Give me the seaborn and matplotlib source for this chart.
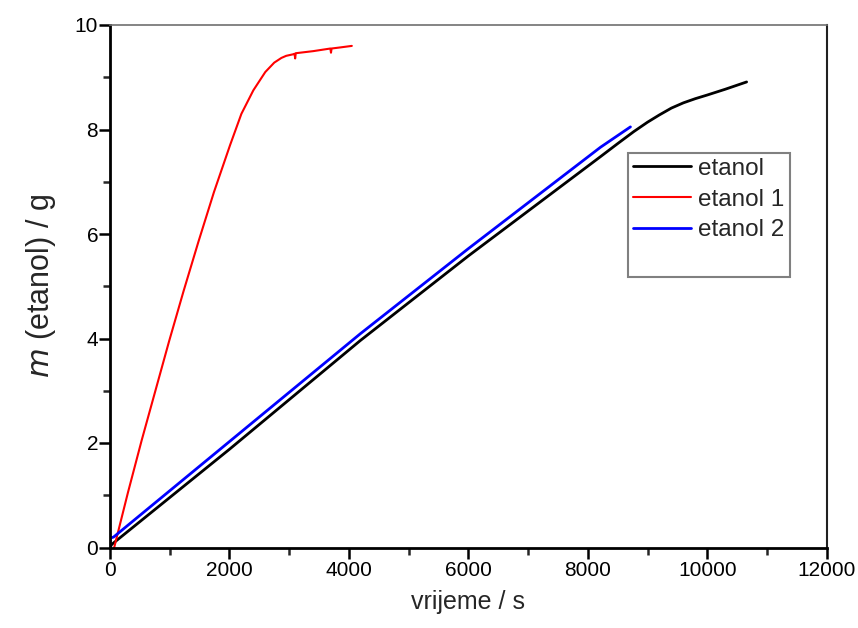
import numpy as np
import pandas as pd
import seaborn as sns
import matplotlib.pyplot as plt
from matplotlib.lines import Line2D
from matplotlib.ticker import MultipleLocator

# values
etanol_t = [0, 30, 2000, 4190, 6000, 8212, 8500, 8770, 9000, 9200, 9400,
            9600, 9800, 10000, 10300, 10659]
etanol_m = [0.0, 0.06, 1.88, 3.96, 5.58, 7.48, 7.73, 7.96, 8.14, 8.28, 8.41,
            8.51, 8.59, 8.66, 8.77, 8.91]

etanol1_t = [70, 300, 530, 760, 990, 1230, 1480, 1740, 2010, 2200, 2400, 2600,
             2750, 2870, 2950, 3068, 3090, 3100, 3110, 3404, 3690, 3700, 3710,
             3850, 4049]
etanol1_m = [0.0, 1.05, 2.05, 3.0, 3.95, 4.9, 5.85, 6.8, 7.7, 8.3, 8.75, 9.1,
             9.28, 9.37, 9.41, 9.44, 9.45, 9.36, 9.46, 9.5, 9.55, 9.47, 9.55,
             9.57, 9.6]

etanol2_t = [0, 5, 60, 4190, 6000, 8212, 8714]
etanol2_m = [0.0, 0.18, 0.2, 4.09, 5.72, 7.66, 8.05]

names = ["etanol", "etanol 1", "etanol 2"]
colors = ["black", "red", "blue"]
widths = [2.0, 1.5, 2.0]

frames = []
for name, t, m in zip(names, [etanol_t, etanol1_t, etanol2_t],
                      [etanol_m, etanol1_m, etanol2_m]):
    frames.append(pd.DataFrame({"t": t, "m": m, "uzorak": name}))
df = pd.concat(frames, ignore_index=True)

sns.set_style("ticks")
plt.rcParams['font.family'] = ['Liberation Sans', 'DejaVu Sans']

fig = plt.figure(figsize=(8.58, 6.28), dpi=100)
ax = fig.add_axes([110 / 858, 1 - 547.5 / 628, (826.7 - 110) / 858, (547.5 - 25) / 628])

for name, c, lw in zip(names, colors, widths):
    sns.lineplot(data=df[df.uzorak == name], x="t", y="m", color=c,
                 linewidth=lw, sort=False, estimator=None, ax=ax, label=name)

ax.set_xlim(0, 12000)
ax.set_ylim(0, 10)
ax.xaxis.set_major_locator(MultipleLocator(2000))
ax.xaxis.set_minor_locator(MultipleLocator(1000))
ax.yaxis.set_major_locator(MultipleLocator(2))
ax.yaxis.set_minor_locator(MultipleLocator(1))
ax.tick_params(which="major", direction="out", length=8, width=1.8,
               labelsize=15, colors="black")
ax.tick_params(which="minor", direction="out", length=5, width=1.8)
ax.tick_params(axis="x", which="major", pad=2)
ax.tick_params(axis="y", which="major", pad=0.5)

for s in ["left", "bottom"]:
    ax.spines[s].set_linewidth(2)
    ax.spines[s].set_color("black")
ax.spines["top"].set_linewidth(1.2)
ax.spines["top"].set_color("#707070")
ax.spines["right"].set_linewidth(1.5)
ax.spines["right"].set_color("#202020")

ax.set_xlabel("vrijeme / s", fontsize=18, labelpad=7)
ax.set_ylabel(r"$m$ (etanol) / g", fontsize=22, labelpad=12)

handles = [Line2D([], [], color=c, linewidth=lw) for c, lw in zip(colors, widths)]
handles.append(Line2D([], [], color="none"))
leg = ax.legend(handles, names + [" "], loc="upper left",
                bbox_to_anchor=(628 / 858, 1 - 153 / 628), bbox_transform=fig.transFigure,
                borderaxespad=0, fontsize=17.5, frameon=True, fancybox=False,
                handlelength=2.4, handletextpad=0.3, labelspacing=0.36,
                borderpad=0.2)
leg.get_frame().set_edgecolor("#606060")
leg.get_frame().set_linewidth(1.5)

fig.savefig("out.png", dpi=100)
